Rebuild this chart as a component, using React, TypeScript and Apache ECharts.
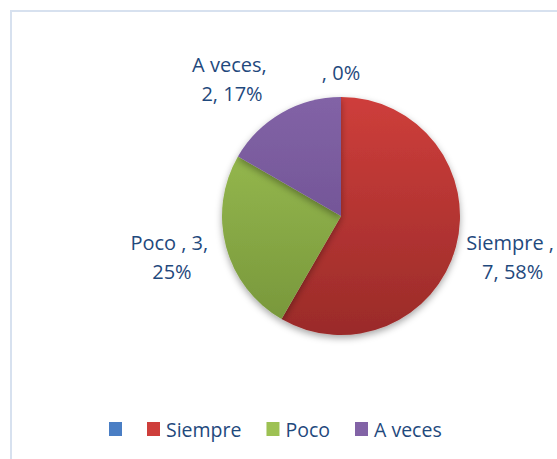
import React, { useEffect, useRef } from "react";
import * as echarts from "echarts";

const categories = [" ", "Siempre ", "Poco ", "A veces"];
const values = [0, 7, 3, 2];
const topColors = ["#4A7EC4", "#CE3E3B", "#9DC153", "#8263A6"];
const bottomColors = ["#2E5D9A", "#9A2B29", "#76953A", "#66498A"];

const CX = 341;
const CY = 216;
const R = 119;
const GAP = 10;

export default function App() {
  const ref = useRef<HTMLDivElement>(null);
  useEffect(() => {
    if (!ref.current) return;
    const chart = echarts.init(ref.current, null, { renderer: "svg" });
    const total = values.reduce((a, b) => a + b, 0);
    const data = categories.map((name, i) => ({
      name,
      value: values[i],
      itemStyle: {
        color: {
          type: "linear",
          x: 0,
          y: CY - R,
          x2: 0,
          y2: CY + R,
          global: true,
          colorStops: [
            { offset: 0, color: topColors[i] },
            { offset: 1, color: bottomColors[i] },
          ],
        },
      },
    }));
    chart.setOption({
      animation: false,
      backgroundColor: "#ffffff",
      graphic: [
        {
          type: "rect",
          z: -10,
          shape: { x: 11, y: 11, width: 700, height: 600 },
          style: { fill: "none", stroke: "#D7E1EF", lineWidth: 2 },
        },
      ],
      legend: {
        left: 104,
        top: 414,
        itemWidth: 13,
        itemHeight: 14,
        itemGap: 25,
        icon: "rect",
        formatter: (n: string) => n.trim(),
        textStyle: {
          fontFamily: "Open Sans",
          fontSize: 19.5,
          color: "#1F497D",
          padding: [0, 0, 0, 1],
        },
        data: categories,
      },
      series: [
        {
          type: "pie",
          center: [CX, CY],
          radius: R,
          startAngle: 90,
          clockwise: true,
          percentPrecision: 0,
          data,
          itemStyle: {
            shadowBlur: 7,
            shadowOffsetY: 3,
            shadowColor: "rgba(0,0,0,0.35)",
            borderWidth: 0,
          },
          emphasis: { disabled: true },
          labelLine: { show: false },
          label: {
            show: true,
            position: "outside",
            fontFamily: "Open Sans",
            fontSize: 20,
            lineHeight: 29,
            color: "#1F497D",
            align: "center",
            width: 89,
            overflow: "break",
            formatter: (p: any) => {
              const nm = p.name.trim() === "" ? "" : p.name;
              const v = p.value ? `${p.value}, ` : "";
              return `${nm}, ${v}${p.percent}%`;
            },
          },
          labelLayout: (p: any) => {
            const i = p.dataIndex;
            let before = 0;
            for (let k = 0; k < i; k++) before += values[k];
            const mid = ((before + values[i] / 2) / total) * Math.PI * 2;
            const sx = Math.sin(mid);
            const sy = -Math.cos(mid);
            const w = p.labelRect.width;
            const h = p.labelRect.height;
            const sgn = Math.abs(sx) < 1e-6 ? 0 : Math.sign(sx);
            return {
              x: CX + (R + GAP) * sx + (sgn * w) / 2,
              y: CY + (R + GAP) * sy + (sy * h) / 2,
              align: "center",
              verticalAlign: "middle",
            };
          },
        },
      ],
    });
    return () => chart.dispose();
  }, []);
  return (
    <div
      ref={ref}
      style={{ position: "fixed", left: 0, top: 0, width: 557, height: 459 }}
    />
  );
}
